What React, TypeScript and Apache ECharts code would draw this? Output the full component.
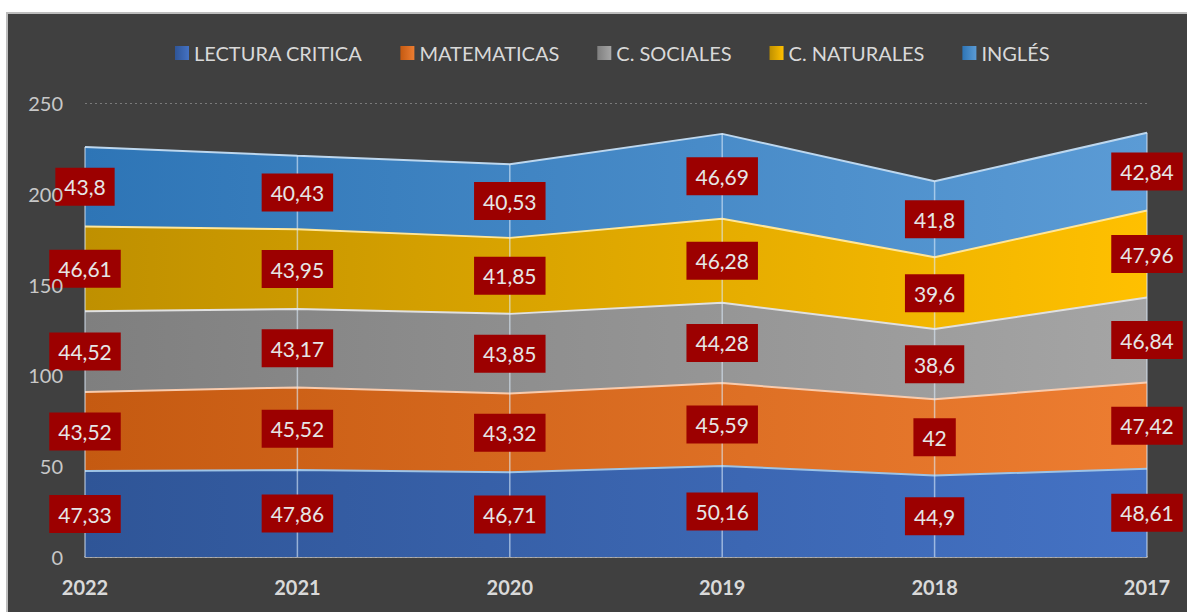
import React, { useEffect, useRef } from "react";
import * as echarts from "echarts";

const years = ["2022", "2021", "2020", "2019", "2018", "2017"];
const seriesNames = ["LECTURA CRITICA", "MATEMATICAS", "C. SOCIALES", "C. NATURALES", "INGLÉS"];
const lectura = [47.33, 47.86, 46.71, 50.16, 44.9, 48.61];
const matematicas = [43.52, 45.52, 43.32, 45.59, 42, 47.42];
const sociales = [44.52, 43.17, 43.85, 44.28, 38.6, 46.84];
const naturales = [46.61, 43.95, 41.85, 46.28, 39.6, 47.96];
const ingles = [43.8, 40.43, 40.53, 46.69, 41.8, 42.84];

const allValues = [lectura, matematicas, sociales, naturales, ingles];
const darkColors = ["#2F5597", "#C55A11", "#7F7F7F", "#BF9000", "#2E75B6"];
const lightColors = ["#4472C4", "#ED7D31", "#A5A5A5", "#FFC000", "#5B9BD5"];
const edgeColors = ["#9DC3E6", "#F8CBAD", "#E0E0E0", "#FFE699", "#BDD7EE"];

const FONT = "Lato";

export default function App() {
  const ref = useRef<HTMLDivElement>(null);
  useEffect(() => {
    if (!ref.current) return;
    const chart = echarts.init(ref.current, undefined, { renderer: "svg" });

    const grad = (i: number) =>
      new echarts.graphic.LinearGradient(0, 0, 1, 0, [
        { offset: 0, color: darkColors[i] },
        { offset: 1, color: lightColors[i] },
      ]);

    const areaSeries = allValues.map((vals, i) => ({
      name: seriesNames[i],
      type: "line",
      stack: "total",
      data: vals,
      symbol: "none",
      z: 2,
      lineStyle: { color: edgeColors[i], width: 2 },
      itemStyle: { color: grad(i) },
      areaStyle: { color: grad(i), opacity: 1 },
    }));

    const totals = years.map((_, j) => allValues.reduce((s, a) => s + a[j], 0));
    const dropData = totals.map((t, j) => [j, t]);

    const labelData: number[][] = [];
    years.forEach((_, j) => {
      let base = 0;
      allValues.forEach((vals) => {
        labelData.push([j, base + vals[j] / 2, vals[j]]);
        base += vals[j];
      });
    });

    const option: any = {
      animation: false,
      backgroundColor: "#404040",
      textStyle: { fontFamily: FONT },
      legend: {
        data: seriesNames,
        top: 24,
        left: 162,
        itemWidth: 14,
        itemHeight: 14,
        itemGap: 38,
        icon: "rect",
        textStyle: { color: "#D9D9D9", fontSize: 20, fontFamily: FONT },
      },
      grid: { left: 77, right: 40, top: 89, bottom: 55 },
      xAxis: {
        type: "category",
        data: years,
        boundaryGap: false,
        z: 1,
        axisLine: { show: true, lineStyle: { color: "#BFBFBF", width: 1.5 } },
        axisTick: { show: false },
        axisLabel: {
          color: "#D9D9D9",
          fontSize: 20,
          fontWeight: "bold",
          margin: 20,
          fontFamily: FONT,
        },
        splitLine: { show: false },
      },
      yAxis: [
        {
          type: "value",
          min: 0,
          max: 250,
          interval: 50,
          z: 20,
          axisLine: { show: false },
          axisTick: { show: false },
          axisLabel: { color: "#C8C8C8", fontSize: 20, margin: 22, fontFamily: FONT },
          splitLine: { show: false },
        },
        {
          type: "value",
          position: "left",
          min: 0,
          max: 250,
          interval: 50,
          z: 0,
          axisLine: { show: false },
          axisTick: { show: false },
          axisLabel: { show: false },
          splitLine: { show: true, lineStyle: { color: "#7A7A7A", type: [2, 3], width: 1 } },
        },
      ],
      series: [
        ...areaSeries,
        {
          type: "custom",
          z: 5,
          silent: true,
          data: dropData,
          renderItem: (params: any, api: any) => {
            const x = api.value(0);
            const top = api.coord([x, api.value(1)]);
            const bot = api.coord([x, 0]);
            return {
              type: "line",
              shape: { x1: top[0], y1: top[1], x2: bot[0], y2: bot[1] },
              style: { stroke: "rgba(220,235,250,0.6)", lineWidth: 1.5 },
            };
          },
        },
        {
          type: "custom",
          z: 10,
          silent: true,
          data: labelData,
          renderItem: (params: any, api: any) => {
            const p = api.coord([api.value(0), api.value(1)]);
            const v = api.value(2);
            return {
              type: "text",
              x: p[0],
              y: p[1],
              style: {
                text: String(v).replace(".", ","),
                fill: "#E6E6E6",
                font: `21px ${FONT}`,
                align: "center",
                verticalAlign: "middle",
                backgroundColor: "#9C0000",
                padding: [9, 9, 8, 9],
                lineHeight: 21,
              },
            };
          },
        },
      ],
    };
    chart.setOption(option);
    return () => chart.dispose();
  }, []);

  return (
    <div
      style={{
        position: "absolute",
        left: 6,
        top: 12,
        width: 1181,
        height: 600,
        borderTop: "2px solid #BDBDBD",
        borderLeft: "2px solid #BDBDBD",
        boxSizing: "border-box",
      }}
    >
      <div ref={ref} style={{ width: 1179, height: 598 }} />
    </div>
  );
}
